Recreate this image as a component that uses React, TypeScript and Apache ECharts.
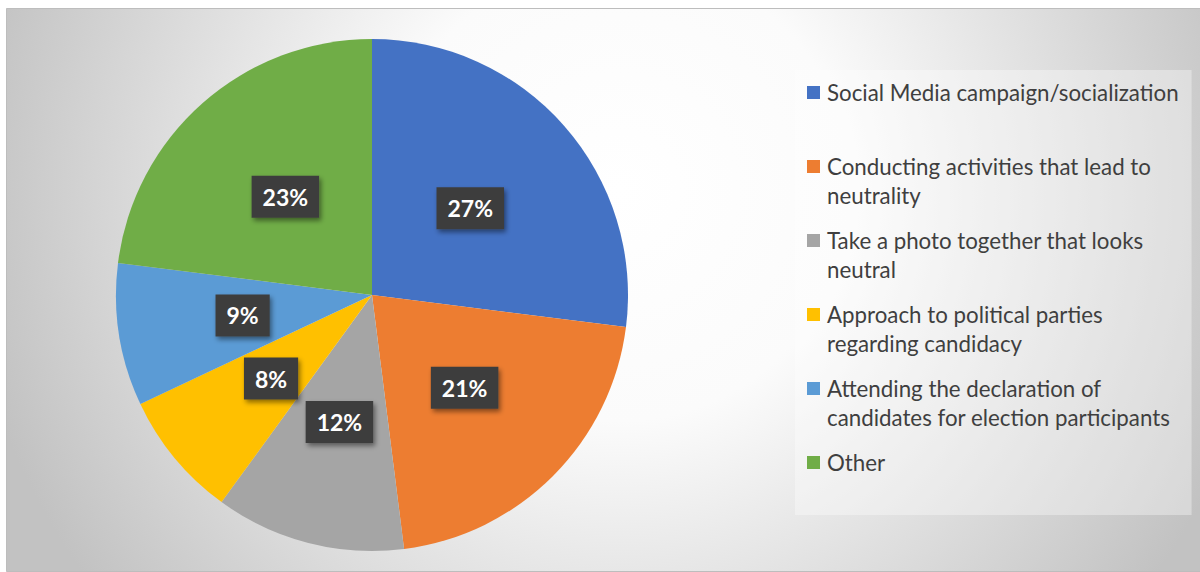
import React, { useEffect, useRef } from "react";
import * as echarts from "echarts";

const categories = [
  "Social Media campaign/socialization",
  "Conducting activities that lead to\nneutrality",
  "Take a photo together that looks\nneutral",
  "Approach to political parties\nregarding candidacy",
  "Attending the declaration of\ncandidates for election participants",
  "Other",
];
const values = [27, 21, 12, 8, 9, 23];
const colors = ["#4472C4", "#ED7D31", "#A5A5A5", "#FFC000", "#5B9BD5", "#70AD47"];

export default function App() {
  const ref = useRef<HTMLDivElement>(null);
  useEffect(() => {
    document.body.style.margin = "0";
    const chart = echarts.init(ref.current!, undefined, { renderer: "svg" });
    const rich: Record<string, any> = {
      t: { fontFamily: "Lato", fontSize: 22.3, color: "#3f3f3f", lineHeight: 29 },
      g: { width: 7, height: 13 },
      g2: { width: 20, height: 13 },
    };
    colors.forEach((c, i) => {
      rich["s" + i] = { width: 13, height: 13, backgroundColor: c };
    });
    chart.setOption({
      animation: false,
      graphic: [
        {
          type: "rect",
          shape: { x: 6.5, y: 8.5, width: 1194, height: 563 },
          style: {
            fill: new echarts.graphic.RadialGradient(
              620,
              190,
              660,
              [
                { offset: 0, color: "#ffffff" },
                { offset: 0.35, color: "#fbfbfb" },
                { offset: 1, color: "#c2c2c2" },
              ],
              true
            ),
            stroke: "#bdbdbd",
            lineWidth: 1,
          },
          z: -10,
          silent: true,
        },
      ],
      legend: {
        orient: "vertical",
        left: 795,
        top: 70,
        padding: [8, 13, 9, 7],
        backgroundColor: "rgba(255,255,255,0.35)",
        itemWidth: 0,
        itemHeight: 0,
        itemGap: 16,
        icon: "rect",
        data: categories,
        textStyle: { fontFamily: "Lato", fontSize: 22.3, color: "#3f3f3f", lineHeight: 29, rich },
        formatter: (name: string) => {
          const i = categories.indexOf(name);
          const lines = name.split("\n");
          const first = `{s${i}|}{g|}{t|${lines[0]}}`;
          const second = lines[1] ? `{g2|}{t|${lines[1]}}` : `{t| }`;
          return first + "\n" + second;
        },
      },
      series: [
        {
          type: "pie",
          center: [372, 295],
          radius: 256,
          startAngle: 90,
          clockwise: true,
          avoidLabelOverlap: false,
          itemStyle: { borderWidth: 0 },
          label: {
            show: true,
            position: "inside",
            formatter: (p: any) => `${p.value}%`,
            fontFamily: "Lato",
            fontWeight: "bold",
            fontSize: 23,
            lineHeight: 24,
            color: "#ffffff",
            backgroundColor: "#3d3d3d",
            padding: [9, 11, 9, 11],
            shadowColor: "rgba(0,0,0,0.45)",
            shadowBlur: 5,
            shadowOffsetX: 2,
            shadowOffsetY: 3,
          },
          labelLine: { show: false },
          emphasis: { disabled: true },
          data: categories.map((name, i) => ({
            name,
            value: values[i],
            itemStyle: { color: colors[i] },
          })),
        },
      ],
    });
    return () => chart.dispose();
  }, []);
  return <div ref={ref} style={{ width: 1200, height: 572 }} />;
}
